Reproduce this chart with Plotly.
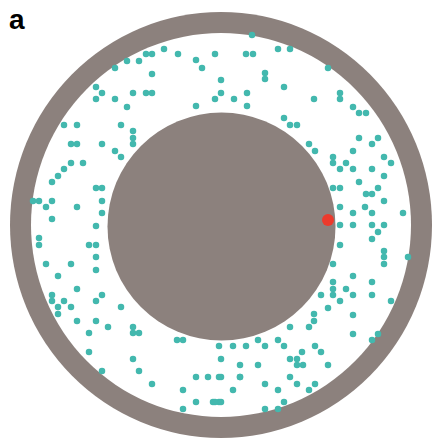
import plotly.graph_objects as go

# Figure geometry (pixel space of the picture)
W, H = 435, 438
CX, CY = 221, 225
OUTER_RX, OUTER_RY = 211, 213
RING_IN_RX, RING_IN_RY = 190, 192
CORE_R = 114
CORE_CX, CORE_CY = 221.5, 226.5

GRAY = "#8c817d"
TEAL = "#43b8ae"
RED = "#ec3a2c"

# particle positions (x, y in picture pixels)
dot_x = [
    146, 152, 164, 178, 127, 139, 115, 152, 196, 202, 215, 96, 102, 96, 115, 133, 146, 152, 127, 196,
    215, 64, 77, 121, 133, 133, 133, 71, 77, 102, 115, 121, 71, 64, 58, 52, 83, 96, 102, 33,
    39, 52, 46, 77, 102, 102, 52,
    252, 278, 290, 246, 253, 328, 265, 265, 221, 284, 221, 234, 247, 247, 314, 340, 340, 353, 359,
    366, 284, 290, 297, 359, 378, 372, 309, 315, 353, 333, 333, 346, 384, 391, 340, 353, 372, 384,
    359, 333, 340, 378, 366, 372, 384, 340, 365, 353, 372, 403,
    96, 39, 39, 89, 96, 96, 46, 71, 96, 58, 77, 52, 52, 64, 102, 96, 58, 58, 71, 121, 77, 96,
    108, 89, 133, 133, 139, 177, 183, 89, 133, 102, 139, 152, 183, 196, 208, 219, 219, 183,
    196, 213, 219,
    340, 353, 372, 384, 378, 372, 340, 384, 384, 384, 408, 333, 353, 333, 333, 346, 372, 321, 333,
    353, 372, 340, 391, 328, 314, 314, 353, 290, 309, 353, 378, 372, 233, 246, 258, 265, 278, 284,
    315, 240, 258, 290, 297, 297, 303, 302, 321, 328, 240, 290, 265, 297, 315, 233, 278, 309,
    284, 265, 278,
]
dot_y = [
    54, 54, 49, 54, 61, 61, 68, 74, 60, 68, 54, 87, 93, 99, 99, 93, 93, 93, 107, 106,
    99, 125, 125, 125, 131, 138, 144, 144, 144, 144, 151, 157, 163, 169, 176, 182, 163, 188, 188, 201,
    201, 201, 207, 207, 201, 213, 219,
    35, 49, 49, 54, 54, 68, 73, 79, 80, 87, 93, 99, 93, 106, 99, 93, 99, 107, 113,
    113, 118, 125, 125, 138, 138, 144, 144, 151, 151, 157, 163, 163, 157, 163, 169, 169, 169, 176,
    182, 188, 188, 188, 194, 194, 201, 207, 207, 213, 213, 213,
    226, 238, 245, 245, 245, 257, 264, 264, 270, 276, 289, 295, 301, 301, 295, 301, 307, 314, 307, 307, 321, 321,
    327, 333, 327, 333, 333, 340, 340, 352, 359, 371, 371, 384, 390, 377, 377, 377, 346, 409,
    402, 402, 402,
    225, 225, 225, 225, 232, 239, 245, 251, 257, 264, 257, 264, 276, 282, 289, 289, 282, 295, 295,
    295, 295, 301, 301, 308, 314, 321, 315, 327, 327, 334, 334, 340, 346, 346, 340, 346, 340, 346,
    346, 365, 365, 359, 359, 365, 365, 352, 352, 365, 377, 377, 384, 384, 384, 390, 390, 390,
    402, 409, 409,
]
# extra points near bottom centre
dot_x += [221, 221, 240, 215, 221]
dot_y += [359, 377, 377, 402, 402]

tracer_x = [328]
tracer_y = [220]

fig = go.Figure()

shapes = [
    dict(type="circle", xref="x", yref="y",
         x0=CX - OUTER_RX, x1=CX + OUTER_RX, y0=CY - OUTER_RY, y1=CY + OUTER_RY,
         fillcolor=GRAY, line=dict(width=0), layer="below"),
    dict(type="circle", xref="x", yref="y",
         x0=CX - RING_IN_RX, x1=CX + RING_IN_RX, y0=CY - RING_IN_RY, y1=CY + RING_IN_RY,
         fillcolor="white", line=dict(width=0), layer="below"),
    dict(type="circle", xref="x", yref="y",
         x0=CORE_CX - CORE_R, x1=CORE_CX + CORE_R, y0=CORE_CY - CORE_R, y1=CORE_CY + CORE_R,
         fillcolor=GRAY, line=dict(width=0), layer="below"),
]

fig.add_trace(go.Scatter(x=dot_x, y=dot_y, mode="markers",
                         marker=dict(size=6.5, color=TEAL, line=dict(width=0)),
                         hoverinfo="skip"))
fig.add_trace(go.Scatter(x=tracer_x, y=tracer_y, mode="markers",
                         marker=dict(size=12, color=RED, line=dict(width=0)),
                         hoverinfo="skip"))

fig.update_layout(
    width=W, height=H,
    margin=dict(l=0, r=0, t=0, b=0),
    paper_bgcolor="white", plot_bgcolor="white",
    showlegend=False,
    shapes=shapes,
    xaxis=dict(range=[0, W], visible=False, fixedrange=True),
    yaxis=dict(range=[H, 0], visible=False, fixedrange=True),
    annotations=[dict(text="<b>a</b>", x=17, y=19, xref="x", yref="y",
                      showarrow=False, font=dict(family="Liberation Sans, Arial", size=28, color="black"))],
)

fig.write_html("out.html", config={"displayModeBar": False},
               post_script="document.body.style.margin='0';document.body.style.overflow='hidden';")
